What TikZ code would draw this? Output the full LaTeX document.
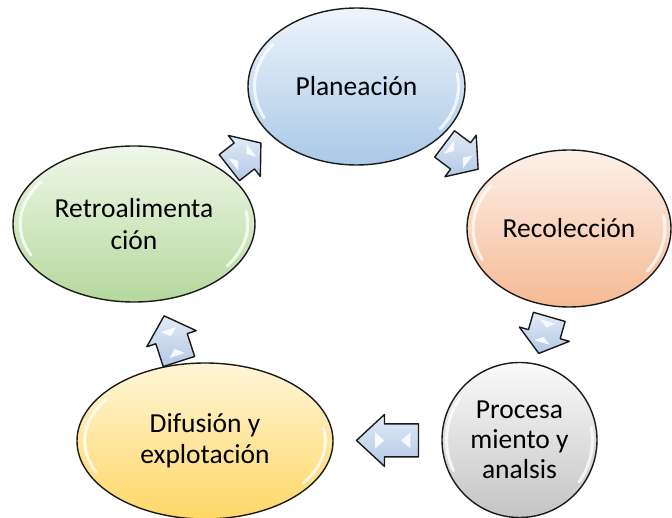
\documentclass[tikz,border=0pt]{standalone}
\usepackage{fontspec}
\setmainfont{Carlito}
\usetikzlibrary{shapes.geometric,calc}
\definecolor{planT}{HTML}{EEF4FB}
\definecolor{planB}{HTML}{AAC8E8}
\definecolor{recT}{HTML}{FDF1EA}
\definecolor{recB}{HTML}{F5B993}
\definecolor{procT}{HTML}{FAFAFA}
\definecolor{procB}{HTML}{C4C4C4}
\definecolor{difT}{HTML}{FFF6D8}
\definecolor{difB}{HTML}{FFD766}
\definecolor{retT}{HTML}{EFF7EA}
\definecolor{retB}{HTML}{B5D89C}
\definecolor{arrT}{HTML}{E2EBF7}
\definecolor{arrB}{HTML}{B3C7E5}
\definecolor{edge}{HTML}{1A1A1A}
\tikzset{
  cyc/.style={ellipse, draw=edge, line width=1.4pt, inner sep=0pt, align=center,
    text=black, font=\fontsize{27.5}{31.5}\selectfont},
  glow/.style={white, line width=3pt, line cap=round, opacity=0.75},
  barrowbody/.style={draw=edge, line width=1.4pt, line join=round, top color=arrT, bottom color=arrB},
  glint/.style={fill=white, opacity=0.85},
}
\newcommand\gloss[3]{%
  \begin{scope}[shift={(#1.center)}]
    \draw[glow] (145:{0.94*#2} and {0.94*#3}) arc[start angle=145, end angle=205, x radius={0.94*#2}, y radius={0.94*#3}];
    \draw[glow] (-35:{0.94*#2} and {0.94*#3}) arc[start angle=-35, end angle=10, x radius={0.94*#2}, y radius={0.94*#3}];
  \end{scope}}
\newcommand\blockarr[4]{%
  \begin{scope}[shift={(#1)}, rotate=#2]
    \pgfmathsetmacro\hl{#3/2}
    \pgfmathsetmacro\hb{#3/2-#4}
    \draw[barrowbody] (-\hl,-16.5) -- (\hb,-16.5) -- (\hb,-26) -- (\hl,0) -- (\hb,26) -- (\hb,16.5) -- (-\hl,16.5) -- cycle;
    \fill[glint] ({0.2*#3},-8) -- ({0.2*#3},8) -- ({0.05*#3},0) -- cycle;
    \fill[glint] ({-0.37*#3},-8) -- ({-0.37*#3},8) -- ({-0.22*#3},0) -- cycle;
  \end{scope}}
\begin{document}
\begin{tikzpicture}[x=1pt, y=1pt]
  \fill[white] (0,0) rectangle (672,-518);
  \useasboundingbox (0,0) rectangle (672,-518);

  \node[cyc, minimum width=217pt, minimum height=157pt, top color=planT, bottom color=planB]
    (plan) at (356.5,-86.5) {Planeación};
  \node[cyc, minimum width=204pt, minimum height=157pt, top color=recT, bottom color=recB]
    (rec) at (569,-228.5) {Recolección};
  \node[cyc, minimum width=155pt, minimum height=155pt, top color=procT, bottom color=procB, font=\fontsize{27.5}{30}\selectfont]
    (proc) at (519.5,-440) {Procesa\\miento y\\analsis};
  \node[cyc, minimum width=256pt, minimum height=156pt, top color=difT, bottom color=difB]
    (dif) at (205,-441) {Difusión y\\explotación};
  \node[cyc, minimum width=242pt, minimum height=156pt, top color=retT, bottom color=retB]
    (retro) at (134,-224) {Retroalimenta\\ción};

  \gloss{plan}{108.5}{78.5}
  \gloss{rec}{102}{78.5}
  \gloss{proc}{77.5}{77.5}
  \gloss{dif}{128}{78}
  \gloss{retro}{121}{78}

  \path (retro) -- coordinate[pos=.45] (a1) (plan);
  \path (plan) -- coordinate[pos=.45] (a2) (rec);
  \path (rec) -- coordinate[pos=.5] (a3) (proc);
  \path (proc) -- coordinate[pos=.5] (a4) (dif);
  \path (dif) -- coordinate[pos=.4] (a5) (retro);

  \blockarr{a1}{38}{40}{21}
  \blockarr{a2}{-37}{42}{22}
  \blockarr{a3}{-106}{38}{20}
  \blockarr{a4}{180}{62}{28}
  \blockarr{a5}{108}{48}{24}
\end{tikzpicture}
\end{document}
